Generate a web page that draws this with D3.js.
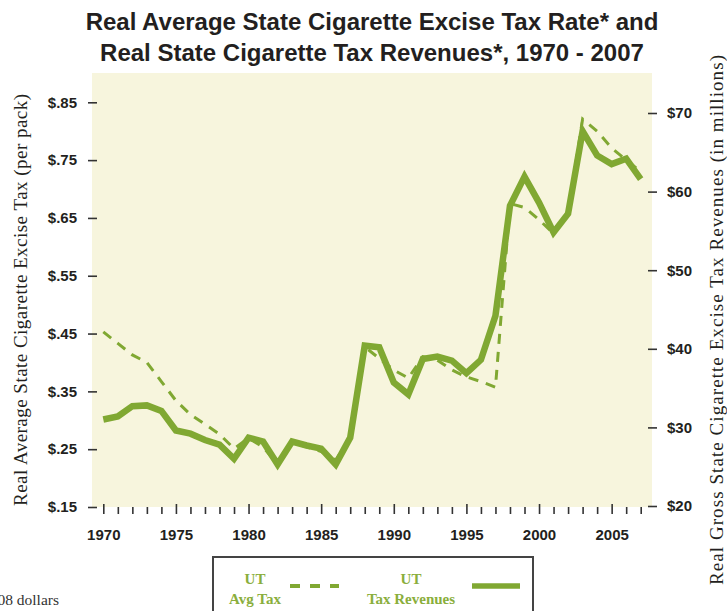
<!DOCTYPE html>
<html>
<head>
<meta charset="utf-8">
<script src="https://cdn.jsdelivr.net/npm/d3@7"></script>
<style>
  html, body { margin: 0; padding: 0; background: #ffffff; }
  svg { display: block; }
</style>
</head>
<body>
<svg id="chart" width="727" height="611"></svg>
<script>
const years = [1970,1971,1972,1973,1974,1975,1976,1977,1978,1979,1980,1981,1982,1983,1984,1985,1986,1987,1988,1989,1990,1991,1992,1993,1994,1995,1996,1997,1998,1999,2000,2001,2002,2003,2004,2005,2006,2007];
const avgTax = [0.453,0.433,0.413,0.400,0.367,0.334,0.310,0.293,0.276,0.251,0.269,0.254,0.223,0.261,0.254,0.246,0.231,0.269,0.427,0.407,0.387,0.373,0.410,0.404,0.387,0.375,0.367,0.357,0.675,0.668,0.647,0.623,0.657,0.821,0.800,0.771,0.750,0.730];
const taxRevenues = [31.0,31.4,32.7,32.8,32.1,29.6,29.2,28.4,27.8,26.0,28.7,28.2,25.3,28.2,27.7,27.3,25.3,28.7,40.4,40.2,35.7,34.2,38.7,39.0,38.5,36.9,38.6,44.2,58.2,61.9,58.6,54.8,57.2,67.7,64.6,63.5,64.2,61.6];
const leftTicks = [0.15,0.25,0.35,0.45,0.55,0.65,0.75,0.85];
const rightTicks = [20,30,40,50,60,70];
const yearLabels = [1970,1975,1980,1985,1990,1995,2000,2005];
const titleLines = ["Real Average State Cigarette Excise Tax Rate* and", "Real State Cigarette Tax Revenues*, 1970 - 2007"];
const leftTitle = "Real Average State Cigarette Excise Tax (per pack)";
const rightTitle = "Real Gross State Cigarette Excise Tax Revenues (in millions)";
const footnote = "* In 2008 dollars";

const green = "#80a832";
const condensed = "'Liberation Sans Narrow', 'Arial Narrow', 'Liberation Sans', Arial, sans-serif";
const serif = "'Liberation Serif', 'Times New Roman', serif";

const svg = d3.select("#chart");

// plot background
const bg = { x0: 92, x1: 652, y0: 73, y1: 507 };
svg.append("rect")
  .attr("x", bg.x0).attr("y", bg.y0)
  .attr("width", bg.x1 - bg.x0).attr("height", bg.y1 - bg.y0)
  .attr("fill", "#f7f5dd");

const x = d3.scaleLinear().domain([1970, 2007]).range([103.3, 640.7]);
const yL = d3.scaleLinear().domain([0.15, 0.85]).range([507, 102.3]);
const yR = d3.scaleLinear().domain([20, 70]).range([506, 113]);

// title
svg.append("g").selectAll("text").data(titleLines).join("text")
  .attr("x", 372).attr("y", (d, i) => 30 + i * 31)
  .attr("text-anchor", "middle")
  .attr("font-family", condensed)
  .attr("font-weight", "bold")
  .attr("font-size", 24)
  .attr("fill", "#231f20")
  .text(d => d);

// left axis
const fmtL = d => "$" + d3.format(".2f")(d).replace(/^0/, "");
const gL = svg.append("g").attr("transform", "translate(97,0)")
  .call(d3.axisLeft(yL).tickValues(leftTicks).tickSize(9).tickPadding(11).tickFormat(fmtL));
gL.select(".domain").remove();

// right axis
const gR = svg.append("g").attr("transform", "translate(648,0)")
  .call(d3.axisRight(yR).tickValues(rightTicks).tickSize(9).tickPadding(10).tickFormat(d => "$" + d));
gR.select(".domain").remove();

// x axis
const gX = svg.append("g").attr("transform", "translate(0,504)")
  .call(d3.axisBottom(x).tickValues(years).tickSize(10).tickPadding(15)
    .tickFormat(d => yearLabels.includes(d) ? String(d) : ""));
gX.select(".domain").remove();
gX.selectAll(".tick line").attr("y1", d => yearLabels.includes(d) ? 0 : 3);

[gL, gR, gX].forEach(g => {
  g.selectAll(".tick line").attr("stroke", "#333").attr("stroke-width", 1.6);
  g.selectAll(".tick text")
    .attr("font-family", condensed)
    .attr("font-weight", "bold")
    .attr("font-size", 15)
    .attr("fill", "#231f20");
});

// axis titles
svg.append("text")
  .attr("transform", "translate(27,300) rotate(-90)")
  .attr("text-anchor", "middle")
  .attr("font-family", serif)
  .attr("font-size", 19)
  .attr("textLength", 412)
  .attr("lengthAdjust", "spacing")
  .attr("fill", "#231f20")
  .text(leftTitle);
svg.append("text")
  .attr("transform", "translate(723,320) rotate(-90)")
  .attr("text-anchor", "middle")
  .attr("font-family", serif)
  .attr("font-size", 19)
  .attr("textLength", 530)
  .attr("lengthAdjust", "spacing")
  .attr("fill", "#231f20")
  .text(rightTitle);

// lines
const taxLine = d3.line().x((d, i) => x(years[i])).y(d => yL(d));
const revLine = d3.line().x((d, i) => x(years[i])).y(d => yR(d));

svg.append("path")
  .datum(avgTax)
  .attr("d", taxLine)
  .attr("fill", "none")
  .attr("stroke", green)
  .attr("stroke-width", 3)
  .attr("stroke-dasharray", "10,8");

svg.append("path")
  .datum(taxRevenues)
  .attr("d", revLine)
  .attr("fill", "none")
  .attr("stroke", green)
  .attr("stroke-width", 6.5)
  .attr("stroke-linejoin", "miter");

// legend
svg.append("rect")
  .attr("x", 213).attr("y", 557).attr("width", 320).attr("height", 70)
  .attr("fill", "#fff").attr("stroke", "#444").attr("stroke-width", 2);

const legendItems = [
  { l1: "UT", l2: "Avg Tax", cx: 255, lx0: 290, lx1: 339, dash: "10,10", w: 4 },
  { l1: "UT", l2: "Tax Revenues", cx: 411, lx0: 472, lx1: 520, dash: null, w: 5.5 }
];
const lg = svg.append("g");
legendItems.forEach(it => {
  lg.append("text").attr("x", it.cx).attr("y", 584).attr("text-anchor", "middle")
    .attr("font-family", serif).attr("font-weight", "bold").attr("font-size", 15)
    .attr("fill", "#8aae3c").text(it.l1);
  lg.append("text").attr("x", it.cx).attr("y", 604).attr("text-anchor", "middle")
    .attr("font-family", serif).attr("font-weight", "bold").attr("font-size", 15)
    .attr("fill", "#8aae3c").text(it.l2);
  const ln = lg.append("line").attr("x1", it.lx0).attr("x2", it.lx1)
    .attr("y1", 586).attr("y2", 586)
    .attr("stroke", green).attr("stroke-width", it.w);
  if (it.dash) ln.attr("stroke-dasharray", it.dash);
});

// footnote
svg.append("text")
  .attr("x", 59).attr("y", 605).attr("text-anchor", "end")
  .attr("font-family", serif).attr("font-size", 15.5)
  .attr("fill", "#333").text(footnote);
</script>
</body>
</html>
